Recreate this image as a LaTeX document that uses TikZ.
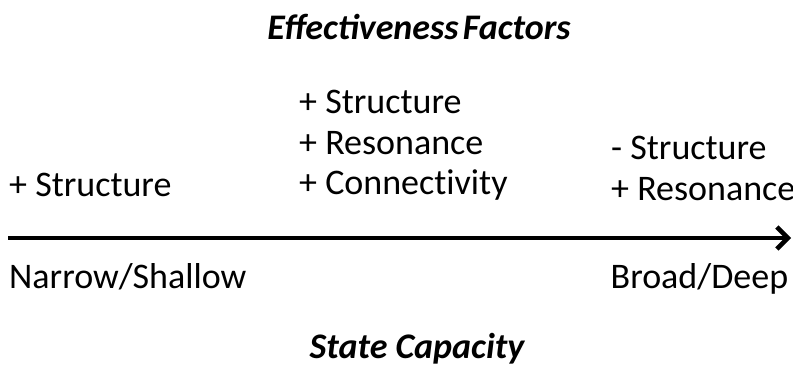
\documentclass[tikz,border=0pt]{standalone}
\usepackage{fontspec}
\setmainfont{Carlito}
\usetikzlibrary{arrows.meta,positioning}
\tikzset{
  factor/.style={
    % The font:
    font=\fontsize{36}{40}\selectfont\addfontfeatures{Ligatures=NoCommon},
    % The place:
    anchor=base west, inner sep=0pt
  },
  heading/.style={
    font=\fontsize{36}{40}\selectfont\bfseries\itshape,
    anchor=base, inner sep=0pt
  }
}
\tikzstyle{axis} = [draw, line width=4.5pt, -{Straight Barb[length=11pt,width=22pt,line width=4.5pt]}]

\begin{document}
\begin{tikzpicture}[x=1pt,y=1pt,node distance=40.5pt]
\useasboundingbox (0,0) rectangle (793,369);
\node [heading] (effect) at (419,329) {Effectiveness\hspace{0.12em}Factors};
\node [heading] (capacity) at (417,10) {State Capacity};
\node [factor] (lstruct) at (9,172) {+ Structure};
\node [factor] (mstruct) at (299,255) {+ Structure};
\node [factor, below=of mstruct.base west, anchor=base west] (mreson) {+ Resonance};
\node [factor, below=of mreson.base west, anchor=base west] (mconn) {+ Connectivity};
\node [factor] (rstruct) at (611,209) {- Structure};
\node [factor, below=of rstruct.base west, anchor=base west] (rreson) {+ Resonance};
\node [factor] (narrow) at (9,80) {Narrow/Shallow};
\node [factor, right=of narrow.base west, xshift=561pt, anchor=base west] (broad) {Broad/Deep};
% Draw axis
\coordinate (start) at (8,131);
\coordinate (stop) at (791,131);
\path [axis] (start) -- (stop);
\end{tikzpicture}
\end{document}
